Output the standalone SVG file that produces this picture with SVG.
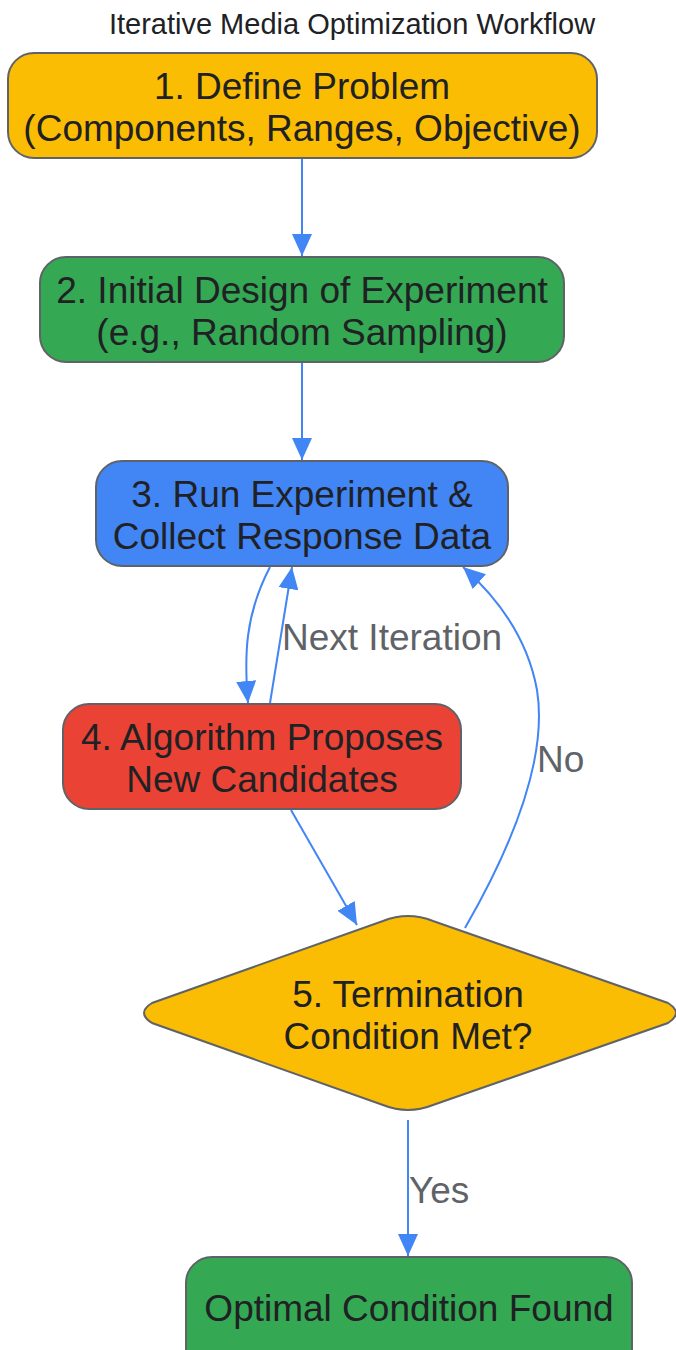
<svg xmlns="http://www.w3.org/2000/svg" width="676" height="1350" viewBox="0 0 676 1350">
<defs>
<style>
.node{stroke:#5f6368;stroke-width:2}
.t{font-family:"Liberation Sans",Arial,sans-serif;font-size:37px;fill:#202124;text-anchor:middle}
.lbl{font-family:"Liberation Sans",Arial,sans-serif;font-size:37px;fill:#5f6368}
.title{font-family:"Liberation Sans",Arial,sans-serif;font-size:29px;fill:#202124;text-anchor:middle}
.e{fill:none;stroke:#4285F4;stroke-width:2}
</style>
<marker id="a" viewBox="0 0 22 20" refX="22" refY="10" markerWidth="22" markerHeight="20" markerUnits="userSpaceOnUse" orient="auto">
<path d="M0,0 L22,10 L0,20 z" fill="#4285F4"/>
</marker>
</defs>
<rect width="676" height="1350" fill="#ffffff"/>
<text class="title" x="352" y="34">Iterative Media Optimization Workflow</text>
<g id="edges">
<path class="e" d="M302,158 L302,256" marker-end="url(#a)"/>
<path class="e" d="M302,362 L302,460" marker-end="url(#a)"/>
<path class="e" d="M270,567 C245,615 244,655 248,703" marker-end="url(#a)"/>
<path class="e" d="M270,703 L292,567" marker-end="url(#a)"/>
<path class="e" d="M291,810 L357,925" marker-end="url(#a)"/>
<path class="e" d="M465,928 C530,815 545,740 537,690 C528,640 500,600 463,567" marker-end="url(#a)"/>
<path class="e" d="M408,1120 L408,1256" marker-end="url(#a)"/>
<text class="lbl" x="282" y="650">Next Iteration</text>
<text class="lbl" x="537" y="772">No</text>
<text class="lbl" x="409" y="1203">Yes</text>
</g>
<g id="n1">
<rect class="node" x="8" y="53" width="589" height="105" rx="26" fill="#FBBC04"/>
<text class="t" x="302" y="99">1. Define Problem</text>
<text class="t" x="302" y="141">(Components, Ranges, Objective)</text>
</g>
<g id="n2">
<rect class="node" x="40" y="257" width="524" height="105" rx="26" fill="#34A853"/>
<text class="t" x="302" y="303">2. Initial Design of Experiment</text>
<text class="t" x="302" y="345">(e.g., Random Sampling)</text>
</g>
<g id="n3">
<rect class="node" x="96" y="461" width="412" height="105" rx="26" fill="#4285F4"/>
<text class="t" x="302" y="507">3. Run Experiment &amp;</text>
<text class="t" x="302" y="549">Collect Response Data</text>
</g>
<g id="n4">
<rect class="node" x="63" y="704" width="398" height="105" rx="26" fill="#EA4335"/>
<text class="t" x="262" y="750">4. Algorithm Proposes</text>
<text class="t" x="262" y="792">New Candidates</text>
</g>
<g id="n5">
<path class="node" d="M383,921 Q408,911 433,921 L668,1003 Q684,1013 668,1023 L433,1105 Q408,1115 383,1105 L152,1023 Q136,1013 152,1003 Z" fill="#FBBC04"/>
<text class="t" x="408" y="1007">5. Termination</text>
<text class="t" x="408" y="1049">Condition Met?</text>
</g>
<g id="n6">
<rect class="node" x="186" y="1257" width="446" height="120" rx="26" fill="#34A853"/>
<text class="t" x="409" y="1321">Optimal Condition Found</text>
</g>
</svg>
